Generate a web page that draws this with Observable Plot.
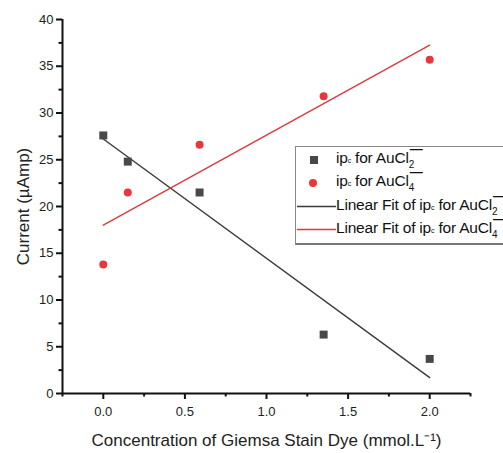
<!DOCTYPE html>
<html>
<head>
<meta charset="utf-8">
<script src="https://cdn.jsdelivr.net/npm/d3@7"></script>
<script src="https://cdn.jsdelivr.net/npm/@observablehq/plot@0.6"></script>
<style>
  html, body { margin: 0; padding: 0; background: #fff; }
  #wrap { position: relative; width: 503px; height: 453px; overflow: hidden; font-family: "Liberation Sans", Arial, sans-serif; }
  #legend { position: absolute; left: 295px; top: 146px; width: 260px; height: 99px; border: 1px solid #888; border-bottom: 2px solid #777; background: #fff; box-sizing: border-box; }
  .row { position: absolute; left: 0; height: 23px; font-size: 15.5px; color: #111; white-space: nowrap; letter-spacing: -0.2px; }
  .row .txt { position: absolute; left: 40px; top: 1px; }
  .ss { display: inline-block; position: relative; width: 12px; height: 10px; }
  .ss .sb { position: absolute; left: 0; top: 6px; font-size: 10px; }
  .ss .sp { position: absolute; left: 1px; top: -12px; font-size: 13px; font-weight: bold; }
  .c { font-size: 7px; }
</style>
</head>
<body>
<div id="wrap"></div>
<script>
const xConc = [0, 0.15, 0.59, 1.35, 2.0];
const ipAuCl2 = [27.6, 24.8, 21.5, 6.3, 3.7];
const ipAuCl4 = [13.8, 21.5, 26.6, 31.8, 35.7];
const xMajorTicks = [0, 0.5, 1.0, 1.5, 2.0];
const xMinorTicks = [-0.25, 0.25, 0.75, 1.25, 1.75, 2.25];
const yMajorTicks = [0, 5, 10, 15, 20, 25, 30, 35, 40];
const yMinorTicks = [2.5, 7.5, 12.5, 17.5, 22.5, 27.5, 32.5, 37.5];

const d2 = xConc.map((x, i) => ({x, y: ipAuCl2[i]}));
const d4 = xConc.map((x, i) => ({x, y: ipAuCl4[i]}));

const chart = Plot.plot({
  width: 503,
  height: 453,
  marginLeft: 62,
  marginRight: 33,
  marginTop: 19,
  marginBottom: 60,
  style: {fontFamily: "'Liberation Sans', Arial, sans-serif", fontSize: "13px", color: "#222", background: "#fff"},
  x: {domain: [-0.25, 2.25]},
  y: {domain: [0, 40]},
  marks: [
    Plot.axisX(xMajorTicks, {tickSize: 6, tickFormat: d3.format(".1f"), tickPadding: 7, fontSize: 13, label: "Concentration of Giemsa Stain Dye (mmol.L⁻¹)", labelAnchor: "center", labelArrow: "none", labelOffset: 52, strokeWidth: 2, stroke: "#111"}),
    Plot.axisX(xMinorTicks, {tickSize: 3.5, tickFormat: () => "", label: null, strokeWidth: 2, stroke: "#111"}),
    Plot.axisY(yMajorTicks, {tickSize: 6, tickPadding: 3, fontSize: 13, label: "Current (µAmp)", labelAnchor: "center", labelArrow: "none", labelOffset: 46, strokeWidth: 2, stroke: "#111"}),
    Plot.axisY(yMinorTicks, {tickSize: 3.5, tickFormat: () => "", label: null, strokeWidth: 2, stroke: "#111"}),
    Plot.ruleY([0], {stroke: "#111", strokeWidth: 2}),
    Plot.ruleX([-0.25], {stroke: "#111", strokeWidth: 2}),
    Plot.linearRegressionY(d2, {x: "x", y: "y", stroke: "#3a3a3a", strokeWidth: 1.4, ci: 0}),
    Plot.linearRegressionY(d4, {x: "x", y: "y", stroke: "#d93a3f", strokeWidth: 1.4, ci: 0}),
    Plot.dot(d2, {x: "x", y: "y", symbol: "square", r: 4.5, fill: "#484848"}),
    Plot.dot(d4, {x: "x", y: "y", r: 4, fill: "#e8373c"})
  ]
});

const wrap = document.getElementById("wrap");
wrap.appendChild(chart);
chart.querySelectorAll("g[aria-label='x-axis label'] text, g[aria-label='y-axis label'] text").forEach(t => { t.style.fontSize = "17px"; t.style.fill = "#222"; });
chart.querySelectorAll("g[aria-label='x-axis tick label'] text, g[aria-label='y-axis tick label'] text").forEach(t => { t.style.fill = "#222"; });

const species = ["2", "4"];
const legend = document.createElement("div");
legend.id = "legend";
const sub = n => `AuCl<span class="ss"><span class="sb">${n}</span><span class="sp">—</span></span>`;
legend.innerHTML = `
  <div class="row" style="top:1px;width:260px"><svg width="40" height="23" style="position:absolute;left:0;top:0"><rect x="14" y="8" width="8" height="8" fill="#484848"/></svg><span class="txt">ip<span class="c">c</span> for ${sub(species[0])}</span></div>
  <div class="row" style="top:24px;width:260px"><svg width="40" height="23" style="position:absolute;left:0;top:0"><circle cx="17" cy="12" r="4" fill="#e8373c"/></svg><span class="txt">ip<span class="c">c</span> for ${sub(species[1])}</span></div>
  <div class="row" style="top:48px;width:260px"><svg width="40" height="23" style="position:absolute;left:0;top:0"><line x1="1" x2="40" y1="11.5" y2="11.5" stroke="#3a3a3a" stroke-width="1.3"/></svg><span class="txt">Linear Fit of ip<span class="c">c</span> for ${sub(species[0])}</span></div>
  <div class="row" style="top:71px;width:260px"><svg width="40" height="23" style="position:absolute;left:0;top:0"><line x1="1" x2="40" y1="11.5" y2="11.5" stroke="#d93a3f" stroke-width="1.3"/></svg><span class="txt">Linear Fit of ip<span class="c">c</span> for ${sub(species[1])}</span></div>
`;
wrap.appendChild(legend);
</script>
</body>
</html>
